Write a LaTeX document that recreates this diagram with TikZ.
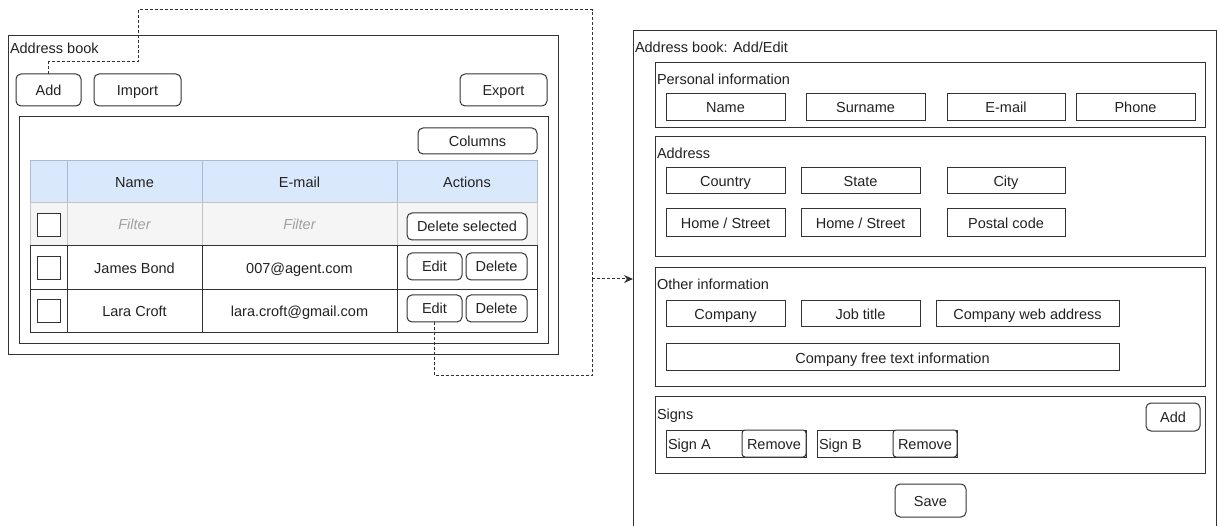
\documentclass[tikz,border=0pt]{standalone}
\usepackage{fontspec}
\setmainfont{Liberation Sans}
\usetikzlibrary{arrows.meta}
\definecolor{ln}{HTML}{333333}
\definecolor{txt}{HTML}{222222}
\definecolor{hdrfill}{HTML}{DAE8FC}
\definecolor{hdrline}{HTML}{A9BCD6}
\definecolor{filfill}{HTML}{F5F5F5}
\definecolor{filline}{HTML}{C4C4C4}
\definecolor{filtxt}{HTML}{A0A0A0}
\newcommand\wbox[7]{\node[#6, minimum width={(#4-#2)*1pt}, minimum height={(#5-#3)*1pt}] (#1) at ({(#2+#4)/2},{(#3+#5)/2}) {#7};}
\tikzset{
  base/.style={inner sep=0pt, outer sep=0pt, text=txt, text height=11.5pt, text depth=0.5pt, font=\fontsize{14.5}{17}\selectfont},
  frame/.style={base, draw=ln, line width=1pt},
  field/.style={base, draw=ln, line width=1pt, fill=white},
  btn/.style={base, draw=ln, line width=1pt, fill=white, rounded corners=5pt},
  hdr/.style={base, draw=hdrline, line width=1pt, fill=hdrfill},
  fil/.style={base, draw=filline, line width=1pt, fill=filfill, text=filtxt, font=\fontsize{14.5}{17}\selectfont\itshape},
  cell/.style={base, draw=ln, line width=1pt, fill=white},
  chk/.style={base, draw=ln, line width=1pt, fill=white},
  lbl/.style={base, anchor=west},
  conn/.style={draw=ln, line width=1pt, dash pattern=on 3pt off 2pt},
}
\begin{document}
\begin{tikzpicture}[x=1pt,y=-1pt]
\useasboundingbox (0,0) rectangle (1218,526);
\fill[white] (0,0) rectangle (1218,526);
% ---------------- left panel
\wbox{lp}{8}{36}{558}{355}{frame}{}
\node[lbl] (lpt) at (10,48) {Address book};
\wbox{add}{16}{74}{81}{106}{btn}{Add}
\wbox{imp}{94}{74}{181}{106}{btn}{Import}
\wbox{exp}{460}{74}{547}{106}{btn}{Export}
\wbox{inner}{19}{117}{548}{344}{frame}{}
\wbox{cols}{418}{128}{537}{154}{btn}{Columns}
% header
\wbox{h0}{30}{161}{67}{203}{hdr}{}
\wbox{h1}{67}{161}{202}{203}{hdr}{Name}
\wbox{h2}{202}{161}{397}{203}{hdr}{E-mail}
\wbox{h3}{397}{161}{537}{203}{hdr}{Actions}
% filter
\wbox{f0}{30}{203}{67}{246}{fil}{}
\wbox{f1}{67}{203}{202}{246}{fil}{Filter}
\wbox{f2}{202}{203}{397}{246}{fil}{Filter}
\wbox{f3}{397}{203}{537}{246}{fil}{}
% rows
\wbox{r10}{30}{246}{67}{290}{cell}{}
\wbox{r11}{67}{246}{202}{290}{cell}{James Bond}
\wbox{r12}{202}{246}{397}{290}{cell}{007@agent.com}
\wbox{r13}{397}{246}{537}{290}{cell}{}
\wbox{r20}{30}{290}{67}{333}{cell}{}
\wbox{r21}{67}{290}{202}{333}{cell}{Lara Croft}
\wbox{r22}{202}{290}{397}{333}{cell}{lara.croft@gmail.com}
\wbox{r23}{397}{290}{537}{333}{cell}{}
% checkboxes
\wbox{cb0}{37}{214}{60}{237}{chk}{}
\wbox{cb1}{37}{257}{60}{280}{chk}{}
\wbox{cb2}{37}{300}{60}{323}{chk}{}
% row buttons
\wbox{dsel}{407}{213}{527}{240}{btn}{Delete selected}
\wbox{edit1}{407}{253}{462}{280}{btn}{Edit}
\wbox{del1}{466}{253}{527}{280}{btn}{Delete}
\wbox{edit2}{407}{295}{462}{322}{btn}{Edit}
\wbox{del2}{466}{295}{527}{322}{btn}{Delete}
% ---------------- right panel
\coordinate (rpbl) at (633,526);
\coordinate (rptl) at (633,31);
\coordinate (rptr) at (1216,31);
\coordinate (rpbr) at (1216,526);
\draw[draw=ln, line width=1pt] (rpbl) -- (rptl) -- (rptr) -- (rpbr);
\node[lbl] (rpt) at (635,47) {Address book: Add/Edit};
% personal
\wbox{pers}{655}{63}{1205}{128}{frame}{}
\node[lbl] (perst) at (657,79) {Personal information};
\wbox{pname}{666}{94}{785}{121}{field}{Name}
\wbox{psur}{806}{94}{925}{121}{field}{Surname}
\wbox{pmail}{947}{94}{1065}{121}{field}{E-mail}
\wbox{pphone}{1076}{94}{1195}{121}{field}{Phone}
% address
\wbox{addr}{655}{137}{1205}{257}{frame}{}
\node[lbl] (addrt) at (657,153) {Address};
\wbox{acountry}{666}{168}{785}{194}{field}{Country}
\wbox{astate}{801}{168}{920}{194}{field}{State}
\wbox{acity}{947}{168}{1065}{194}{field}{City}
\wbox{ahome1}{666}{209}{785}{237}{field}{Home / Street}
\wbox{ahome2}{801}{209}{920}{237}{field}{Home / Street}
\wbox{apostal}{947}{209}{1065}{237}{field}{Postal code}
% other
\wbox{other}{655}{268}{1205}{387}{frame}{}
\node[lbl] (othert) at (657,284) {Other information};
\wbox{ocomp}{666}{301}{785}{327}{field}{Company}
\wbox{ojob}{801}{301}{920}{327}{field}{Job title}
\wbox{oweb}{936}{301}{1119}{327}{field}{Company web address}
\wbox{ofree}{666}{344}{1119}{371}{field}{Company free text information}
% signs
\wbox{signs}{655}{397}{1205}{473}{frame}{}
\node[lbl] (signst) at (657,414) {Signs};
\wbox{sadd}{1146}{403}{1200}{431}{btn}{Add}
\wbox{signa}{666}{430}{806}{457}{field}{}
\node[lbl] (signat) at (668,444) {Sign A};
\wbox{rema}{742}{430}{806}{457}{btn, rounded corners=3pt}{Remove}
\wbox{signb}{817}{430}{957}{457}{field}{}
\node[lbl] (signbt) at (819,444) {Sign B};
\wbox{remb}{893}{430}{957}{457}{btn, rounded corners=3pt}{Remove}
\wbox{save}{895}{484}{966}{517}{btn}{Save}
% ---------------- connectors
\coordinate (a1) at (138,62);
\coordinate (a2) at (592,10);
\coordinate (m) at (592,279);
\coordinate (e1) at (592,376);
\coordinate (rp) at (633,279);
\draw[conn] (add.north) |- (a1) |- (a2) -- (m);
\draw[conn] (edit2.south) |- (e1) -- (m);
\draw[conn, -{Stealth[length=9pt,width=8pt]}] (m) -- (rp);
\end{tikzpicture}
\end{document}
